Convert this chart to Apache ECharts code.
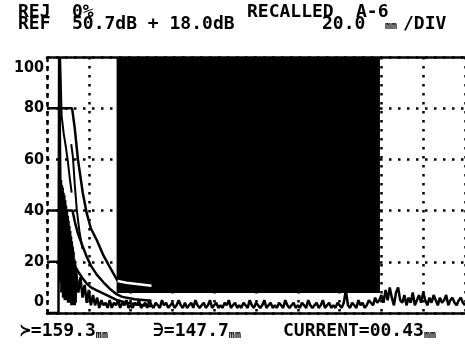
<!DOCTYPE html>
<html><head><meta charset="utf-8">
<script src="https://cdn.jsdelivr.net/npm/echarts@6/dist/echarts.min.js"></script>
<style>html,body{margin:0;padding:0;background:#fff}#c{width:465px;height:346px}</style>
</head><body><div id="c"></div>
<script>
// ---- data (mm on x, % screen height on y) ----
const yTicks = [0, 20, 40, 60, 80, 100];
const xRange = [0, 200];          // 20.0 mm/DIV, 10 divisions
const gateStart = 33.3, gateEnd = 159.3, gateBottom = 7.8, gateTop = 100;
const dacA = [[0,80],[12,80],[13.3,72],[14.8,60],[17.1,47],[19,39],[21,33],[23.8,28.5],[27,22.5],[30,18],[33.8,12.5],[38,11.8],[44,11.2],[50,10.6]];
const dacB = [[0,40],[12.2,40],[13.5,35],[14.8,31],[17.1,26],[19,22],[21,18.5],[23.8,15],[27,12],[30,9.5],[33,7.5],[36,6.3],[42,5.4],[50,4.8]];
const dacC = [[0,20],[12.4,20],[13.6,18],[15,16],[17.1,13.5],[19,11.5],[21,10],[23.8,8.8],[28.6,7],[33,5.2],[38,4],[44,3.2],[50,2.6]];
const envA = [[6.3,100],[7.0,77],[8.0,70],[9.0,65],[10.0,59],[11.0,52],[11.8,47]];
const envB = [[11.6,66],[12.4,61],[13.3,50],[14.3,40],[15.5,32],[17,25]];
const sigHead = [[0,0],[5.5,0],[5.8,100],[6.3,100],[6.4,50],
  [6.5,12],[6.7,52],[6.9,8],[7.1,50],[7.3,15],[7.5,49],[7.7,6],[7.9,47],[8.1,12],[8.3,46],[8.5,5],[8.7,44],[8.9,10],[9.1,42],
  [9.3,5],[9.5,40],[9.7,9],[9.9,38],[10.1,4],[10.3,36],[10.5,8],[10.7,34],[10.9,4],[11.1,32],[11.3,7],[11.5,30],[11.7,3],
  [11.9,28],[12.1,6],[12.3,26],[12.5,3],[12.7,24],[12.9,5],[13.1,21],[13.3,3],[13.5,19],[13.7,4],[13.9,17]];
const noiseStart = 14, noiseStep = 1;
const noiseY = [
 16,8,14,6,11,4,9,3,7,3,6,2,5,3,4,2,5,2,4,3,5,2,4,3,5,2,
 3,2,4,3,5,2,3,4,2,5,3,2,4,3,2,5,3,4,2,3,
 4,2,3,5,3,2,4,2,3,4,2,5,3,2,3,4,2,3,5,2,
 3,4,2,3,2,4,3,5,2,3,4,2,3,2,4,3,2,5,3,2,
 4,3,2,3,5,2,3,4,2,3,2,4,3,2,5,3,2,3,4,2,
 3,2,4,3,2,5,3,2,3,4,2,3,5,2,3,4,2,3,2,4,
 3,2,4,9,3,2,4,3,2,5,3,4,2,3,5,4,3,6,4,5,
 7,4,9,5,10,6,3,8,10,5,4,7,3,6,4,8,3,5,7,4,
 8,5,3,6,4,7,5,3,6,4,5,7,3,5,6,4,3,5,6,4,3
];
const headerTexts = ['REJ','0%','RECALLED','A-6','REF','50.7dB + 18.0dB','20.0','/DIV'];
const footerTexts = ['\u227B=159.3','\u220B=147.7','CURRENT=00.43'];

// ---- build ----
const signal = sigHead.concat(noiseY.map((v, i) => [noiseStart + i * noiseStep, v]));
const dacAInGate = dacA.filter(p => p[0] >= gateStart);
const MONO = '"DejaVu Sans Mono", monospace';
const NARROW = '"Liberation Sans Narrow", "DejaVu Sans Condensed", "DejaVu Sans", sans-serif';
const dotted = {color:'#000', width:2.5, type:[2.5,6.5]};

function lineSeries(data, z, color, width) {
  return {type:'line', data, z, showSymbol:false, symbol:'none', silent:true,
    lineStyle:{color: color || '#000', width: width || 2.5}, animation:false};
}
function txt(text, x, y, size) {
  return {type:'text', x, y, silent:true, z:100, style:{text, fill:'#000', font:'bold ' + (size||18) + 'px ' + MONO, verticalAlign:'middle', align:'left'}};
}
function txtMm(text, x, y) {
  return {type:'text', x, y, silent:true, z:100, style:{
    text:'{a|' + text + '}{m|mm}', verticalAlign:'middle', align:'left',
    rich:{a:{fontFamily:MONO, fontWeight:'bold', fontSize:18, fill:'#000', color:'#000'},
          m:{fontFamily:MONO, fontWeight:'bold', fontSize:10, fill:'#000', color:'#000', verticalAlign:'bottom'}}}};
}

const chart = echarts.init(document.getElementById('c'), null, {renderer:'canvas'});
chart.setOption({
  animation:false,
  backgroundColor:'#fff',
  grid:{left:47, top:57, width:420, height:256},
  xAxis:[
    {type:'value', min:xRange[0], max:xRange[1], interval:20, position:'bottom',
     axisLine:{show:true, onZero:false, lineStyle:{color:'#000', width:2.5}},
     axisTick:{show:false}, axisLabel:{show:false},
     splitLine:{show:true, lineStyle:dotted}},
    {type:'value', min:xRange[0], max:xRange[1], interval:20, position:'top',
     axisLine:{show:true, onZero:false, lineStyle:{color:'#000', width:2.5}},
     axisTick:{show:false}, axisLabel:{show:false}, splitLine:{show:false}}
  ],
  yAxis:{type:'value', min:yTicks[0], max:yTicks[yTicks.length-1], interval:20,
    axisLine:{show:true, lineStyle:{color:'#000', width:2.5, type:[2.5,6.5]}},
    axisTick:{show:false},
    splitLine:{show:true, lineStyle:dotted},
    axisLabel:{margin:3, color:'#000', fontFamily:NARROW, fontWeight:'bold', fontSize:16,
      formatter: v => v === yTicks[yTicks.length-1] ? '{t|' + v + '}' : (v === yTicks[0] ? '{b|' + v + '}' : '{n|' + v + '}'),
      rich:{
        t:{fontFamily:NARROW, fontWeight:'bold', fontSize:16, color:'#000', padding:[22,0,0,0]},
        b:{fontFamily:NARROW, fontWeight:'bold', fontSize:16, color:'#000', padding:[0,0,22,0]},
        n:{fontFamily:NARROW, fontWeight:'bold', fontSize:16, color:'#000'}
      }}
  },
  series:[
    {type:'line', data:[[gateStart, gateBottom]], z:3, symbol:'none', silent:true, lineStyle:{width:0}, animation:false,
     markArea:{silent:true, itemStyle:{color:'#000'}, data:[[{coord:[gateStart, gateBottom]},{coord:[gateEnd, gateTop]}]]}},
    lineSeries(dacA, 4),
    lineSeries(dacB, 4),
    lineSeries(dacC, 4),
    lineSeries(envA, 4, '#000', 2),
    lineSeries(envB, 4, '#000', 2),
    lineSeries(signal, 4, '#000', 2.5),
    lineSeries(dacAInGate, 6, '#fff', 2.5)
  ],
  graphic:[
    txt(headerTexts[0], 18, 12), txt(headerTexts[1], 72, 12),
    txt(headerTexts[2], 247, 12), txt(headerTexts[3], 356, 12),
    txt(headerTexts[4], 18, 24), txt(headerTexts[5], 72, 24),
    txt(headerTexts[6], 322, 24),
    {type:'text', x:385, y:26, silent:true, z:100, style:{text:'mm', fill:'#000', font:'bold 10px ' + MONO, verticalAlign:'middle'}},
    txt(headerTexts[7], 403, 24),
    txtMm(footerTexts[0], 20, 331), txtMm(footerTexts[1], 153, 331), txtMm(footerTexts[2], 283, 331)
  ]
});
</script></body></html>
